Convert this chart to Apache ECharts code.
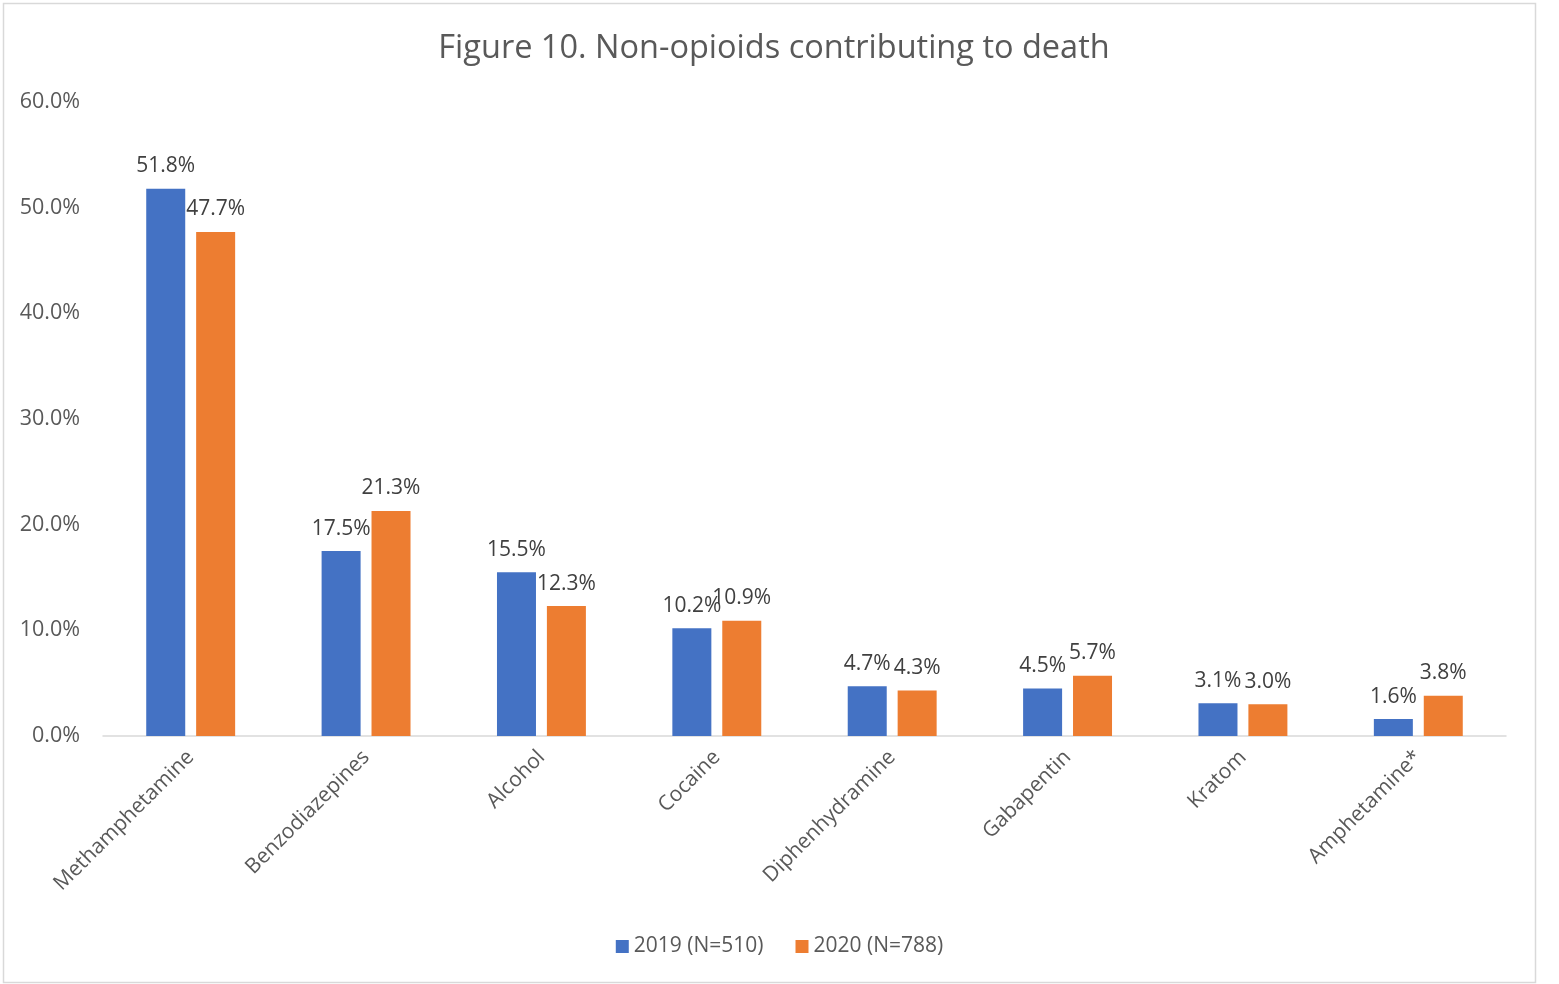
<!DOCTYPE html>
<html>
<head>
<meta charset="utf-8">
<script src="https://cdn.jsdelivr.net/npm/echarts@6/dist/echarts.min.js"></script>
<style>
  html, body { margin: 0; padding: 0; background: #ffffff; }
  #chart { width: 1559px; height: 984px; }
</style>
</head>
<body>
<div id="chart"></div>
<script>
const categories = ['Methamphetamine', 'Benzodiazepines', 'Alcohol', 'Cocaine', 'Diphenhydramine', 'Gabapentin', 'Kratom', 'Amphetamine*'];
const values2019 = [51.8, 17.5, 15.5, 10.2, 4.7, 4.5, 3.1, 1.6];
const values2020 = [47.7, 21.3, 12.3, 10.9, 4.3, 5.7, 3.0, 3.8];
const seriesNames = ['2019 (N=510)', '2020 (N=788)'];
const titleText = 'Figure 10. Non-opioids contributing to death';

const FONT = '"Open Sans", Lato, sans-serif';
const chart = echarts.init(document.getElementById('chart'), null, { renderer: 'canvas' });

const labelStyle = {
  show: true,
  position: 'top',
  distance: 12,
  color: '#404040',
  fontSize: 21,
  fontFamily: FONT,
  formatter: p => p.value.toFixed(1) + '%'
};

chart.setOption({
  animation: false,
  backgroundColor: '#ffffff',
  graphic: [{
    type: 'rect',
    shape: { x: 3.5, y: 3.5, width: 1532, height: 979 },
    style: { fill: 'none', stroke: '#d9d9d9', lineWidth: 1.5 },
    silent: true
  }],
  title: {
    text: titleText,
    left: 769,
    textAlign: 'center',
    top: 27,
    textStyle: { color: '#595959', fontSize: 32.5, fontWeight: 'normal', fontFamily: FONT }
  },
  legend: {
    data: seriesNames,
    bottom: 22,
    left: 'center',
    itemWidth: 13,
    itemHeight: 13,
    itemGap: 32,
    icon: 'rect',
    textStyle: { color: '#595959', fontSize: 21, fontFamily: FONT }
  },
  grid: { left: 103, right: 53, top: 102, bottom: 248 },
  xAxis: {
    type: 'category',
    data: categories,
    axisLine: { lineStyle: { color: '#d9d9d9', width: 1.5 } },
    axisTick: { show: false },
    axisLabel: {
      rotate: 45,
      interval: 0,
      margin: 18,
      color: '#595959',
      fontSize: 21,
      fontFamily: FONT
    }
  },
  yAxis: {
    type: 'value',
    min: 0,
    max: 60,
    interval: 10,
    splitLine: { show: false },
    axisLine: { show: false },
    axisTick: { show: false },
    axisLabel: {
      margin: 23,
      color: '#595959',
      fontSize: 21.5,
      fontFamily: FONT,
      formatter: v => v.toFixed(1) + '%'
    }
  },
  series: [
    {
      name: seriesNames[0],
      type: 'bar',
      data: values2019,
      barWidth: 39,
      barGap: '28%',
      itemStyle: { color: '#4472c4' },
      label: labelStyle
    },
    {
      name: seriesNames[1],
      type: 'bar',
      data: values2020,
      barWidth: 39,
      barGap: '28%',
      itemStyle: { color: '#ed7d31' },
      label: labelStyle
    }
  ]
});
</script>
</body>
</html>
